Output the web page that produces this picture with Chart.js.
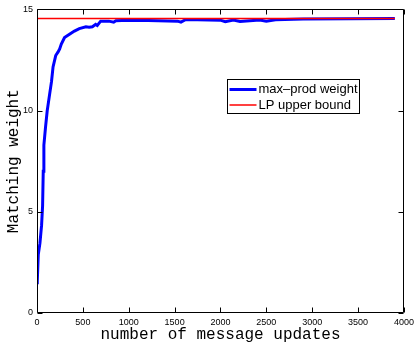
<!DOCTYPE html>
<html>
<head>
<meta charset="utf-8">
<script src="https://cdn.jsdelivr.net/npm/chart.js@4/dist/chart.umd.min.js"></script>
<style>
html,body{margin:0;padding:0;background:#fff;}
canvas{display:block;}
</style>
</head>
<body>
<canvas id="c" width="418" height="349"></canvas>
<script>
// number of message updates (x) and max-product matching weight (y)
const updates = [0, 3, 14, 32, 50, 61, 68, 75, 93, 111, 139, 158, 175, 204, 230, 247, 265, 300, 354, 408, 461, 533, 568, 604, 640, 657, 694, 783, 836, 860, 925, 1212, 1533, 1569, 1623, 1998, 2052, 2141, 2213, 2427, 2499, 2600, 2900, 3900];
const maxProdWeight = [1.5, 1.56, 2.89, 3.45, 4.34, 5.3, 7.0, 8.3, 9.18, 9.98, 10.85, 11.43, 12.16, 12.72, 12.9, 13.05, 13.29, 13.61, 13.77, 13.93, 14.05, 14.14, 14.12, 14.14, 14.26, 14.21, 14.42, 14.42, 14.37, 14.44, 14.45, 14.45, 14.42, 14.37, 14.5, 14.47, 14.39, 14.47, 14.4, 14.47, 14.42, 14.49, 14.53, 14.55];
const boundX = [0, 3900];
const lpUpperBound = [14.55, 14.55];
const seriesLabels = ['max\u2013prod weight', 'LP upper bound'];
const xTicks = [0, 500, 1000, 1500, 2000, 2500, 3000, 3500, 4000];
const yTicks = [0, 5, 10, 15];

const toXY = (xs, ys) => xs.map((x, i) => ({x: x, y: ys[i]}));

const framePlugin = {
  id: 'frame',
  afterDatasetsDraw(chart) {
    const ctx = chart.ctx, a = chart.chartArea;
    const xs = chart.scales.x, ys = chart.scales.y;
    ctx.save();
    ctx.strokeStyle = '#000';
    ctx.lineWidth = 1;
    ctx.beginPath();
    const L = Math.round(a.left) + 0.5, R = Math.round(a.right) - 0.5;
    const T = Math.round(a.top) + 0.5, B = Math.round(a.bottom) - 0.5;
    ctx.rect(L, T, R - L, B - T);
    const tl = 5;
    xTicks.forEach(v => {
      const px = Math.round(xs.getPixelForValue(v)) + 0.5;
      ctx.moveTo(px, B); ctx.lineTo(px, B - tl);
      ctx.moveTo(px, T); ctx.lineTo(px, T + tl);
    });
    yTicks.forEach(v => {
      const py = Math.round(ys.getPixelForValue(v)) + 0.5;
      ctx.moveTo(L, py); ctx.lineTo(L + tl, py);
      ctx.moveTo(R, py); ctx.lineTo(R - tl, py);
    });
    ctx.stroke();
    ctx.restore();
  },
  afterDraw(chart) {
    // legend box
    const ctx = chart.ctx;
    const bx = 227.5, by = 79.5, bw = 132, bh = 34;
    ctx.save();
    ctx.fillStyle = '#fff';
    ctx.fillRect(bx, by, bw, bh);
    ctx.strokeStyle = '#000';
    ctx.lineWidth = 1;
    ctx.strokeRect(bx, by, bw, bh);
    ctx.font = '13px "Liberation Sans", Arial, sans-serif';
    ctx.textBaseline = 'middle';
    ctx.fillStyle = '#000';
    const order = [0, 1];
    order.forEach((di, i) => {
      const ds = chart.data.datasets[di];
      const cy = by + 10 + i * 15.5;
      ctx.strokeStyle = ds.borderColor;
      ctx.lineWidth = ds.borderWidth;
      ctx.beginPath();
      ctx.moveTo(bx + 2, cy); ctx.lineTo(bx + 29, cy);
      ctx.stroke();
      ctx.fillText(ds.label, bx + 31, cy);
    });
    ctx.restore();
  }
};

new Chart(document.getElementById('c'), {
  type: 'line',
  data: {
    datasets: [
      {label: seriesLabels[0], data: toXY(updates, maxProdWeight), borderColor: '#0000ff', backgroundColor: '#0000ff', borderWidth: 3, pointRadius: 0, tension: 0, order: 1},
      {label: seriesLabels[1], data: toXY(boundX, lpUpperBound), borderColor: '#ff0000', backgroundColor: '#ff0000', borderWidth: 1.5, pointRadius: 0, tension: 0, order: 0}
    ]
  },
  options: {
    responsive: false,
    animation: false,
    devicePixelRatio: 1,
    layout: {padding: {left: 0, top: 3, right: 8, bottom: 0}},
    plugins: {legend: {display: false}, tooltip: {enabled: false}},
    scales: {
      x: {
        type: 'linear', min: 0, max: 4000,
        afterBuildTicks: s => { s.ticks = xTicks.map(v => ({value: v})); },
        afterFit: s => { s.height = 36; },
        grid: {display: false, drawTicks: false},
        border: {display: false},
        ticks: {color: '#000', padding: 4, maxRotation: 0, autoSkip: false, callback: v => String(v), font: {family: '"Liberation Sans", Arial, sans-serif', size: 9}},
        title: {display: true, text: 'number of message updates', color: '#000', font: {family: '"Liberation Mono", "Courier New", monospace', size: 16}, padding: {top: 0, bottom: 5}}
      },
      y: {
        type: 'linear', min: 0, max: 15,
        afterBuildTicks: s => { s.ticks = yTicks.map(v => ({value: v})); },
        afterFit: s => { s.width = 37; },
        grid: {display: false, drawTicks: false},
        border: {display: false},
        ticks: {color: '#000', padding: 4, callback: v => String(v), font: {family: '"Liberation Sans", Arial, sans-serif', size: 9}},
        title: {display: true, text: 'Matching weight', color: '#000', font: {family: '"Liberation Mono", "Courier New", monospace', size: 16}, padding: {top: 4, bottom: 0}}
      }
    }
  },
  plugins: [framePlugin]
});
</script>
</body>
</html>
